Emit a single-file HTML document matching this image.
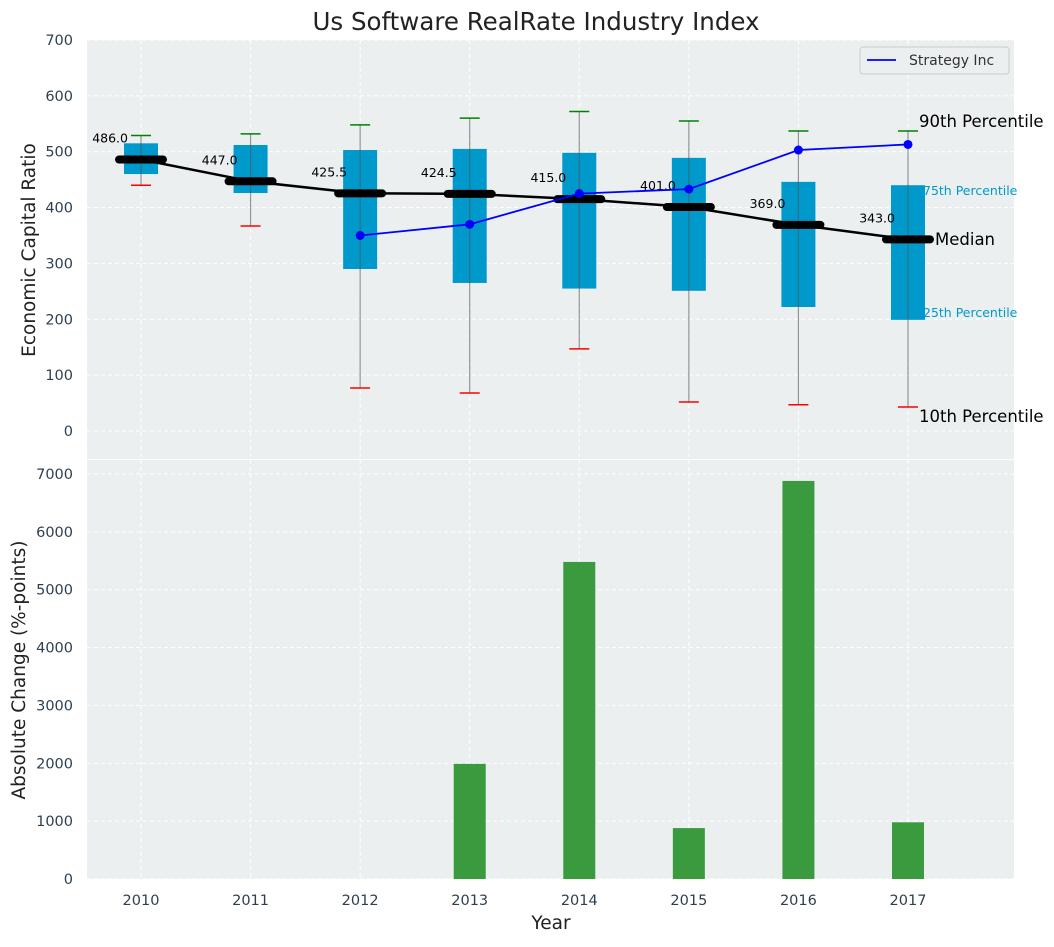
<!DOCTYPE html>
<html><head><meta charset="utf-8"><style>
body{margin:0;background:#fff;font-family:"Liberation Sans","DejaVu Sans",sans-serif}
svg text{font-family:"DejaVu Sans","Liberation Sans",sans-serif}
</style></head><body>
<svg id="c" width="1054" height="942" xmlns="http://www.w3.org/2000/svg"></svg>
<script>
const years=[2010,2011,2012,2013,2014,2015,2016,2017];
const p10=[440,367,77,68,147,52,47,43];
const p25=[460,426,290,265,255,251,222,199];
const medians=[486,447,425.5,424.5,415,401,369,343];
const p75=[515,512,503,505,498,489,446,440];
const p90=[529,532,548,560,572,555,537,537];
const stratYears=[2012,2013,2014,2015,2016,2017];
const stratVals=[350,370,425,433,503,513];
const changeVals=[0,0,0,1990,5480,880,6880,980];
const topTicks=[0,100,200,300,400,500,600,700];
const botTicks=[0,1000,2000,3000,4000,5000,6000,7000];

const svg=document.getElementById('c');const NS='http://www.w3.org/2000/svg';
function el(t,a,p){const e=document.createElementNS(NS,t);for(const k in a)e.setAttribute(k,a[k]);(p||svg).appendChild(e);return e;}
const L=87,R=1014;
const x=yr=>141+(yr-2010)*109.57;
const yT=v=>431-v*0.5586;
const yB=v=>879-v*0.05786;
let a=el('rect',{x:L,y:40,width:R-L,height:419,fill:'#ebeff0'});

a=el('rect',{x:L,y:460,width:R-L,height:419,fill:'#ebeff0'});

years.forEach(yr=>{el('line',{x1:x(yr),x2:x(yr),y1:40,y2:459,stroke:'#fff','stroke-dasharray':'4,3','stroke-width':1});el('line',{x1:x(yr),x2:x(yr),y1:460,y2:879,stroke:'#fff','stroke-dasharray':'4,3','stroke-width':1});
 let t=el('text',{x:x(yr),y:905,'text-anchor':'middle','font-size':14.5,fill:'#2e3f50'});t.textContent=yr;
 });
topTicks.forEach(v=>{el('line',{x1:L,x2:R,y1:yT(v),y2:yT(v),stroke:'#fff','stroke-dasharray':'4,3'});
 let t=el('text',{x:73,y:yT(v)+5,'text-anchor':'end','font-size':14.5,fill:'#2e3f50'});t.textContent=v;
 });
botTicks.forEach(v=>{el('line',{x1:L,x2:R,y1:yB(v),y2:yB(v),stroke:'#fff','stroke-dasharray':'4,3'});
 let t=el('text',{x:73,y:yB(v)+5,'text-anchor':'end','font-size':14.5,fill:'#2e3f50'});t.textContent=v;
 });
years.forEach((yr,i)=>{const cx=x(yr);
 let b=el('rect',{x:cx-17,y:yT(p75[i]),width:34,height:yT(p25[i])-yT(p75[i]),fill:'#0099cc'});
 
 el('line',{x1:cx,x2:cx,y1:yT(p90[i]),y2:yT(p10[i]),stroke:'#555','stroke-opacity':0.6,'stroke-width':1.2});
 el('line',{x1:cx-10,x2:cx+10,y1:yT(p90[i]),y2:yT(p90[i]),stroke:'green','stroke-width':1.5});
 el('line',{x1:cx-10,x2:cx+10,y1:yT(p10[i]),y2:yT(p10[i]),stroke:'red','stroke-width':1.5});
});
let mp=el('polyline',{points:years.map((yr,i)=>x(yr)+','+yT(medians[i])).join(' '),fill:'none',stroke:'#000','stroke-width':2.5});

years.forEach((yr,i)=>{const cx=x(yr);
 let m=el('line',{x1:cx-22,x2:cx+22,y1:yT(medians[i]),y2:yT(medians[i]),stroke:'#000','stroke-width':8,'stroke-linecap':'round'});
 
 let t=el('text',{x:cx-13,y:yT(medians[i])-17,'text-anchor':'end','font-size':12.5,fill:'#000'});t.textContent=medians[i].toFixed(1);
 });
let sp=el('polyline',{points:stratYears.map((yr,i)=>x(yr)+','+yT(stratVals[i])).join(' '),fill:'none',stroke:'#0000ff','stroke-width':1.8});

stratYears.forEach((yr,i)=>{let c=el('circle',{cx:x(yr),cy:yT(stratVals[i]),r:4.5,fill:'#0000ff'});
 });
function txt(s,xx,yy,fs,fill,name){let t=el('text',{x:xx,y:yy,'font-size':fs,fill:fill});t.textContent=s;}
txt('90th Percentile',919,127,16.5,'#000','p90-annotation');
txt('75th Percentile',923,195,12.5,'#0099cc','p75-annotation');
txt('Median',935,245,16.5,'#000','median-annotation');
txt('25th Percentile',923,317,12.5,'#0099cc','p25-annotation');
txt('10th Percentile',919,422,16.5,'#000','p10-annotation');
let lg=el('g',{});
el('rect',{x:860,y:47,width:149,height:27,rx:3,fill:'#ebeff0',stroke:'#ccc'},lg);
el('line',{x1:867,x2:896,y1:60,y2:60,stroke:'#0000ff','stroke-width':1.8},lg);
let lt=el('text',{x:909,y:65,'font-size':14,fill:'#333'},lg);lt.textContent='Strategy Inc';
years.forEach((yr,i)=>{if(changeVals[i]<=0)return;let b=el('rect',{x:x(yr)-16,y:yB(changeVals[i]),width:32,height:879-yB(changeVals[i]),fill:'#3a9a3e'});
 });
let tt=el('text',{x:536,y:30,'text-anchor':'middle','font-size':24.5,fill:'#222'});tt.textContent='Us Software RealRate Industry Index';

let yt=el('text',{transform:'translate(35,250) rotate(-90)','text-anchor':'middle','font-size':18.5,fill:'#222'});yt.textContent='Economic Capital Ratio';

yt=el('text',{transform:'translate(25,670) rotate(-90)','text-anchor':'middle','font-size':18.5,fill:'#222'});yt.textContent='Absolute Change (%-points)';

let xt=el('text',{x:551,y:929,'text-anchor':'middle','font-size':18.5,fill:'#222'});xt.textContent='Year';

</script>
</body></html>
